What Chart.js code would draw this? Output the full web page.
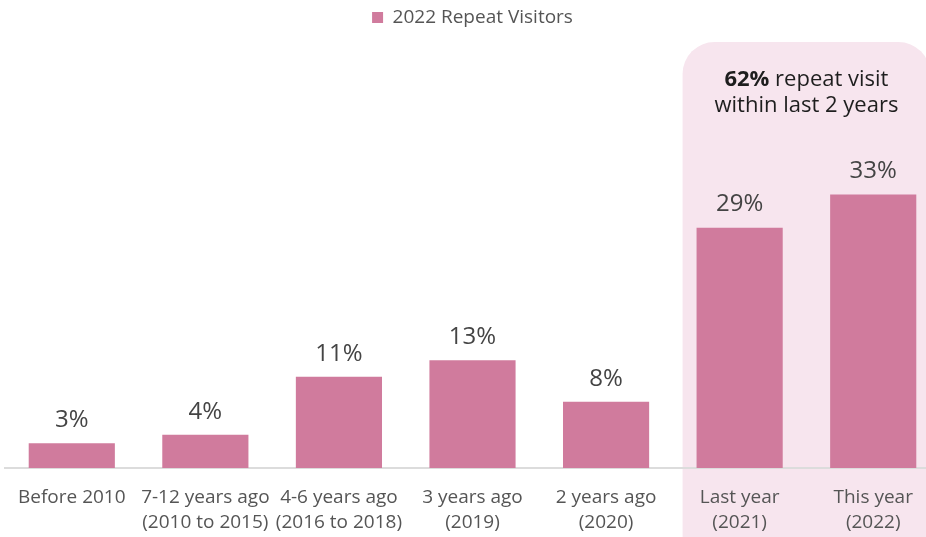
<!DOCTYPE html>
<html>
<head>
<meta charset="utf-8">
<script src="https://cdn.jsdelivr.net/npm/chart.js@4.4.1/dist/chart.umd.min.js"></script>
<style>
  html, body { margin: 0; padding: 0; background: #fff; overflow: hidden; }
  #wrap { width: 940px; height: 553px; }
</style>
</head>
<body>
<div id="wrap"><canvas id="myChart"></canvas></div>
<script>
const categories = [
    ['Before 2010'],
    ['7-12 years ago', '(2010 to 2015)'],
    ['4-6 years ago', '(2016 to 2018)'],
    ['3 years ago', '(2019)'],
    ['2 years ago', '(2020)'],
    ['Last year', '(2021)'],
    ['This year', '(2022)']
];
const repeatVisitors = [3, 4, 11, 13, 8, 29, 33];
const seriesName = '2022 Repeat Visitors';
const calloutBold = '62%';
const calloutLines = [' repeat visit', 'within last 2 years'];
const highlightFrom = 5; // index of first highlighted category

const barColor = '#d07b9d';
const panelColor = '#f7e5ee';
const fontFamily = '"Open Sans", sans-serif';

// pink rounded panel behind the last two bars, with the callout text
const highlightPanel = {
    id: 'highlightPanel',
    beforeDraw(chart) {
        const ctx = chart.ctx;
        const meta = chart.getDatasetMeta(0);
        const first = meta.data[highlightFrom];
        const last = meta.data[meta.data.length - 1];
        const left = first.x - first.width / 2 - 14;
        const right = last.x + last.width / 2 + 14;
        const top = 42;
        const bottom = chart.height + 40;
        const r = 32;
        ctx.save();
        ctx.fillStyle = panelColor;
        ctx.beginPath();
        ctx.moveTo(left, bottom);
        ctx.lineTo(left, top + r);
        ctx.arcTo(left, top, left + r, top, r);
        ctx.lineTo(right - r, top);
        ctx.arcTo(right, top, right, top + r, r);
        ctx.lineTo(right, bottom);
        ctx.closePath();
        ctx.fill();

        const cx = (left + right) / 2;
        ctx.fillStyle = '#1e1e1e';
        ctx.textBaseline = 'middle';
        const bold = '700 22px ' + fontFamily;
        const normal = '400 22px ' + fontFamily;
        ctx.font = bold;
        const wb = ctx.measureText(calloutBold).width;
        ctx.font = normal;
        const wn = ctx.measureText(calloutLines[0]).width;
        let x = cx - (wb + wn) / 2;
        ctx.textAlign = 'left';
        ctx.font = bold;
        ctx.fillText(calloutBold, x, 80);
        ctx.font = normal;
        ctx.fillText(calloutLines[0], x + wb, 80);
        ctx.textAlign = 'center';
        ctx.fillText(calloutLines[1], cx, 106);
        ctx.restore();
    }
};

// percentage labels above each bar
const valueLabels = {
    id: 'valueLabels',
    afterDatasetsDraw(chart) {
        const ctx = chart.ctx;
        const meta = chart.getDatasetMeta(0);
        ctx.save();
        ctx.font = '400 24px ' + fontFamily;
        ctx.fillStyle = '#444';
        ctx.textAlign = 'center';
        ctx.textBaseline = 'middle';
        meta.data.forEach((bar, i) => {
            ctx.fillText(repeatVisitors[i] + '%', bar.x, bar.y - 23);
        });
        ctx.restore();
    }
};

const ctx = document.getElementById('myChart').getContext('2d');
const chart = new Chart(ctx, {
    type: 'bar',
    data: {
        labels: categories,
        datasets: [{
            label: seriesName,
            data: repeatVisitors,
            backgroundColor: barColor,
            borderWidth: 0,
            barPercentage: 0.645,
            categoryPercentage: 1
        }]
    },
    options: {
        responsive: true,
        maintainAspectRatio: false,
        animation: false,
        layout: {
            padding: { left: 5, right: 0, top: 0, bottom: 0 }
        },
        scales: {
            x: {
                grid: { display: false, drawTicks: false },
                border: { display: true, color: '#dcdcdc', width: 2 },
                ticks: {
                    color: '#555',
                    font: { family: fontFamily, size: 19, lineHeight: '25px' },
                    padding: 17.5,
                    maxRotation: 0,
                    autoSkip: false
                }
            },
            y: {
                display: false,
                min: 0,
                max: 52
            }
        },
        plugins: {
            legend: {
                labels: {
                    color: '#555',
                    font: { family: fontFamily, size: 19 },
                    boxWidth: 11,
                    boxHeight: 11,
                    padding: 8
                }
            },
            tooltip: { enabled: false }
        }
    },
    plugins: [highlightPanel, valueLabels]
});
</script>
</body>
</html>
